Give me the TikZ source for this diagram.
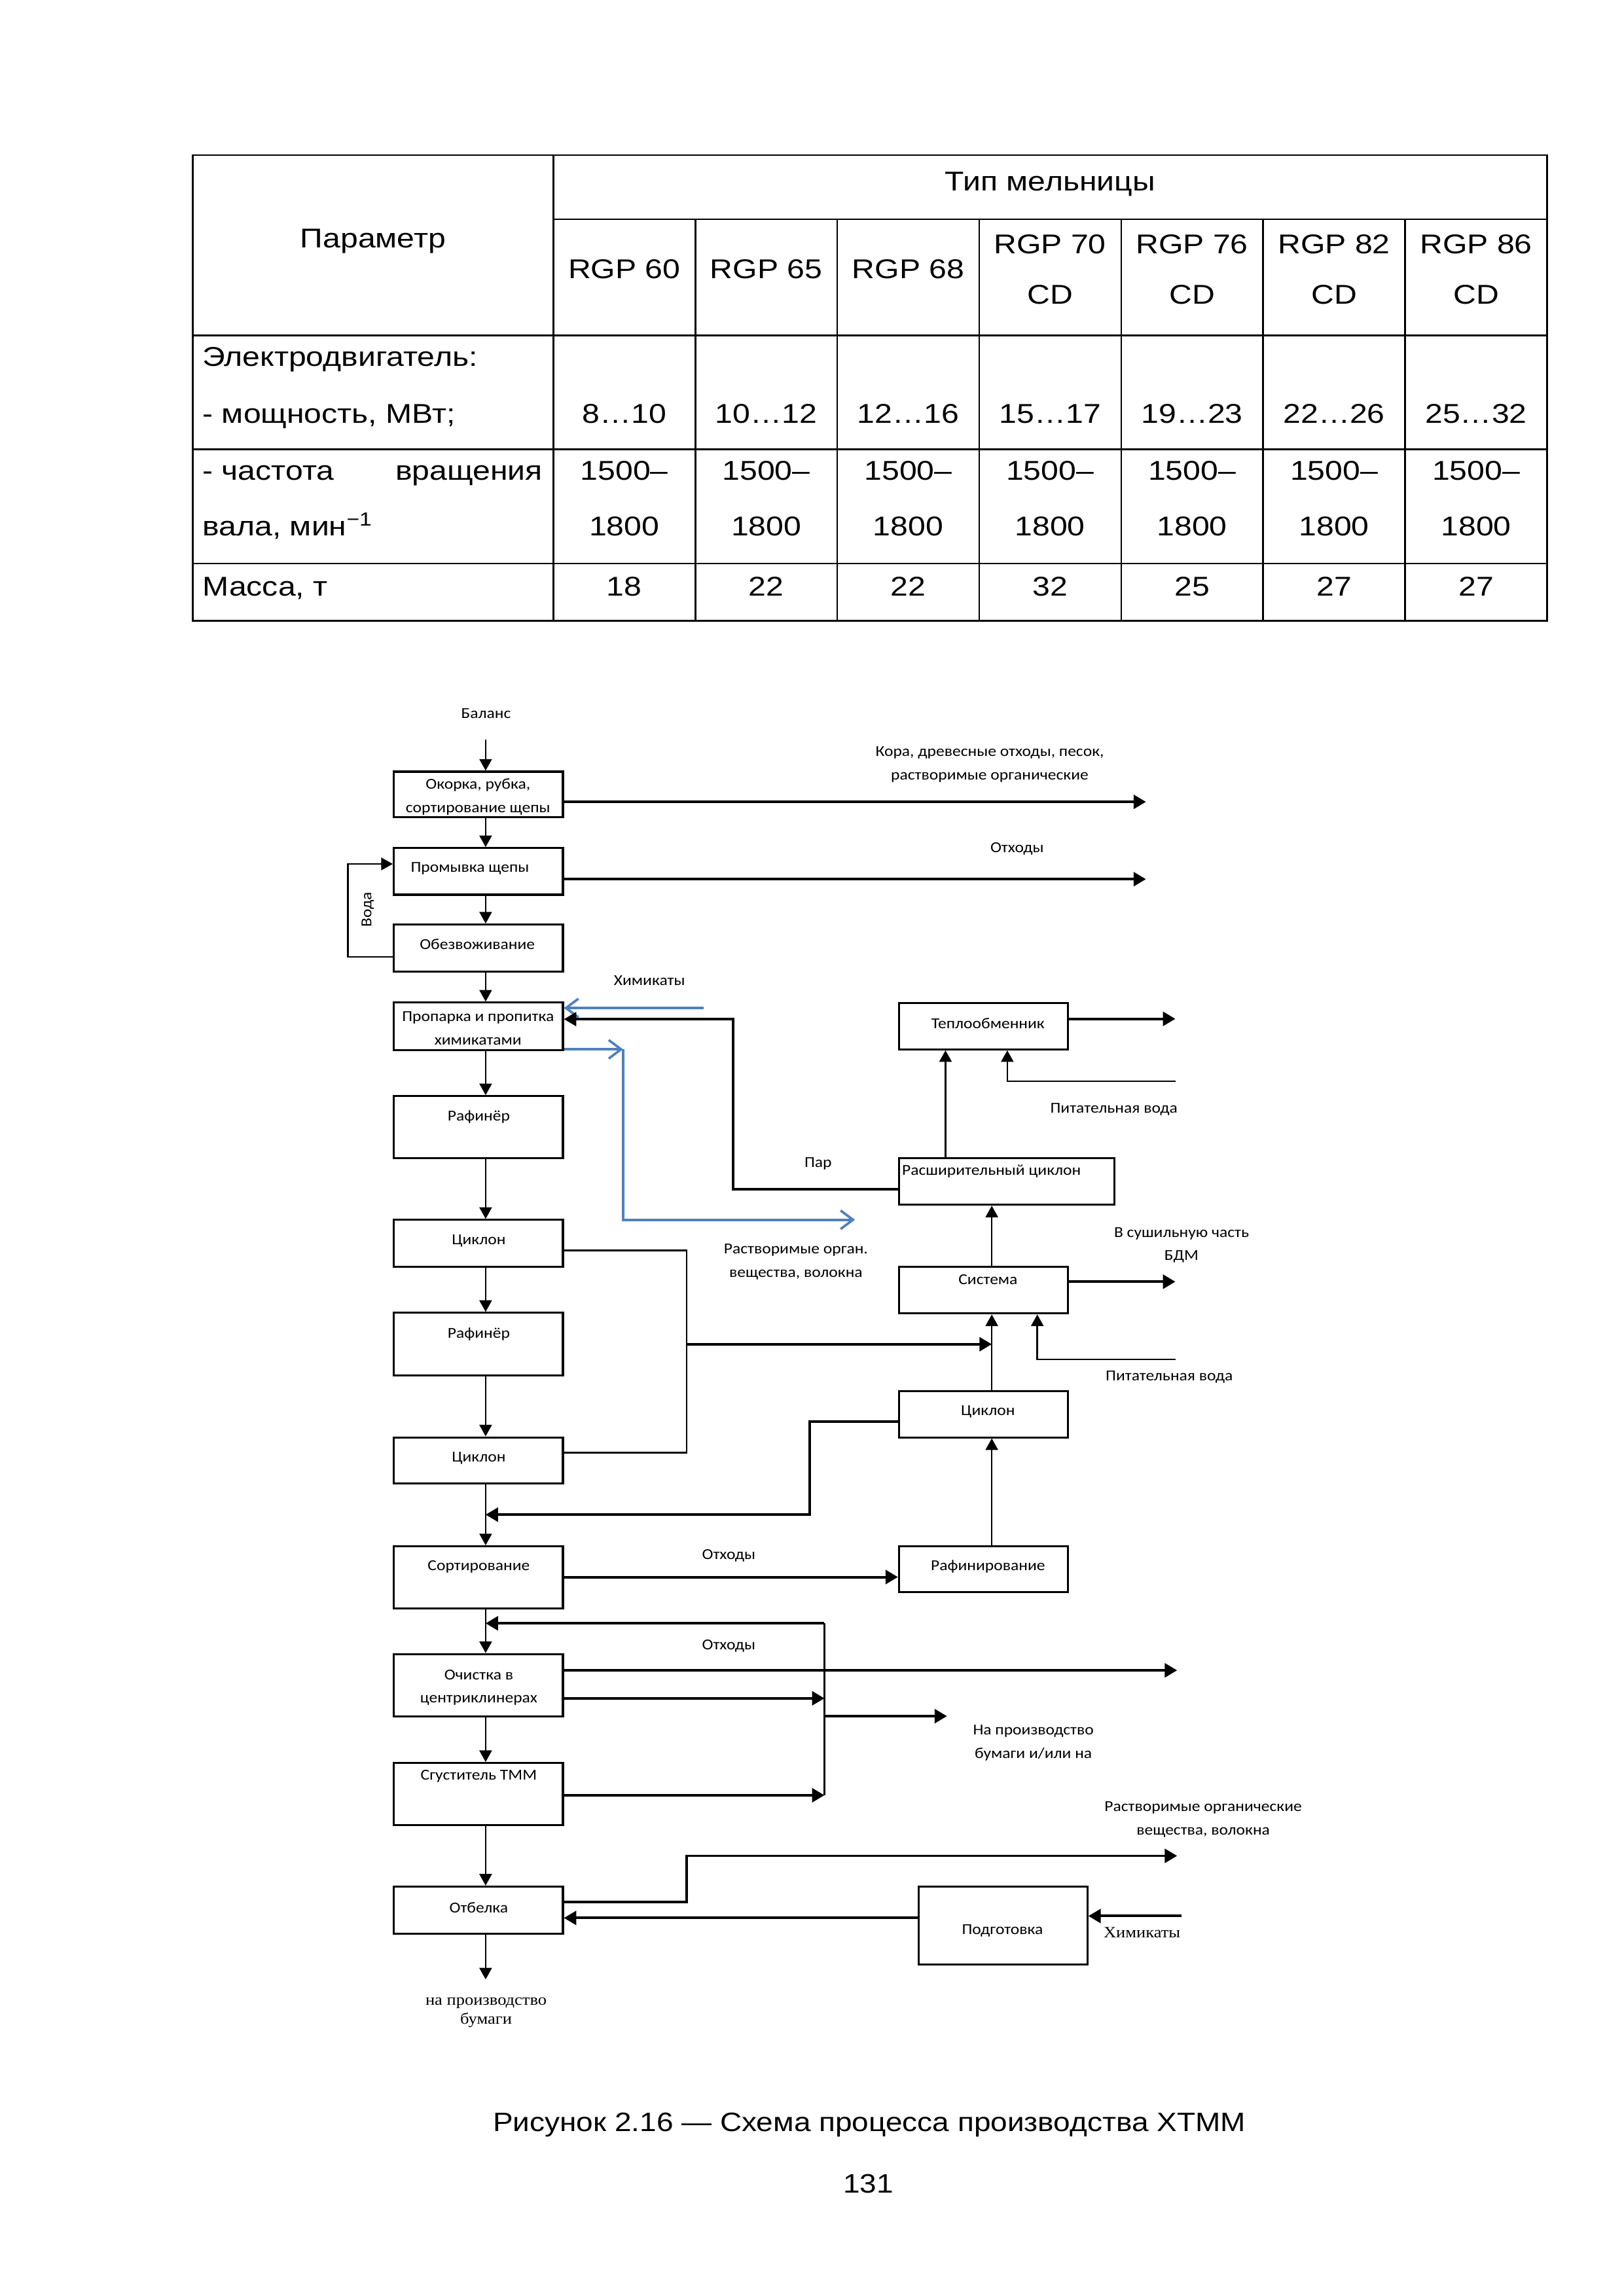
\documentclass[tikz,border=0pt]{standalone}
\usepackage{fontspec}
\setmainfont{Liberation Sans}[FakeStretch=1.1]
\newfontfamily\tabfont{Liberation Sans}[FakeStretch=1.16]
\newfontfamily\capfont{Liberation Sans}[FakeStretch=1.13]
\newfontfamily\dgfont{Carlito}[FakeStretch=1.1]
\newfontfamily\serfont{Liberation Serif}[FakeStretch=1.1]
\usetikzlibrary{arrows.meta,fit}
\definecolor{flowblue}{RGB}{79,129,189}
\begin{document}
\begin{tikzpicture}[x=0.189356mm, y=-0.189413mm,
  tab/.style={line width=0.65pt},
  ttext/.style={inner sep=0, anchor=base, font=\tabfont\fontsize{10}{12}\selectfont},
  ctext/.style={inner sep=0, anchor=base, font=\capfont\fontsize{9.8}{12}\selectfont},
  box/.style={draw, line width=0.75pt, inner sep=0},
  btext/.style={inner sep=0, align=center, font=\dgfont\fontsize{5.6}{8.6}\selectfont},
  lbl/.style={btext},
  slbl/.style={inner sep=0, align=center, font=\serfont\fontsize{5.8}{6.9}\selectfont},
  flow/.style={line width=0.65pt, -{Triangle[length=1.5mm,width=1.6mm]}},
  outar/.style={line width=0.95pt, -{Triangle[length=1.6mm,width=1.8mm]}},
  pipe/.style={line width=0.65pt},
  bflow/.style={flowblue, line width=0.9pt, -{Straight Barb[length=1.6mm,width=2.4mm]}},
]
\useasboundingbox (0,0) rectangle (1109,1568);
% ---------------- table ----------------
\draw[tab] (131.6,105.9) rectangle (1056.7,424);
\draw[tab] (377.9,149.7) -- (1056.7,149.7);
\foreach \yy in {229,306.8,384.8} \draw[tab] (131.6,\yy) -- (1056.7,\yy);
\draw[tab] (377.9,105.9) -- (377.9,424);
\foreach \xx in {474.9,571.8,668.8,765.8,862.7,959.7} \draw[tab] (\xx,149.7) -- (\xx,424);
\node[ttext] (hdr) at (717.3,130.4) {Тип мельницы};
\node[ttext] (par) at (254.8,169.4) {Параметр};
\foreach \c/\m [count=\i] in {426.4/60,523.35/65,620.3/68}
  \node[ttext] (m\i) at (\c,190.4) {RGP \m};
\foreach \c/\m [count=\i] in {717.2/70,814.2/76,911.2/82,1008.2/86}{
  \node[ttext] (mm\i) at (\c,173.1) {RGP \m};
  \node[ttext] (cd\i) at (\c,207.8) {CD};}
\foreach \c/\p/\w [count=\i] in {426.4/8…10/18,523.35/10…12/22,620.3/12…16/22,717.2/15…17/32,814.2/19…23/25,911.2/22…26/27,1008.2/25…32/27}{
  \node[ttext] (pw\i) at (\c,289) {\p};
  \node[ttext] (fa\i) at (\c,328) {1500–};
  \node[ttext] (fb\i) at (\c,366) {1800};
  \node[ttext] (ms\i) at (\c,407) {\w};}
\node[ttext, anchor=base west] (e1t) at (138,250) {Электродвигатель:};
\node[ttext, anchor=base west] (e2t) at (138,289) {- мощность, МВт;};
\node[ttext, anchor=base west] (e3t) at (138,328) {- частота};
\node[ttext, anchor=base east] (e4t) at (371,328) {вращения};
\node[ttext, anchor=base west] (e5t) at (138,366) {вала, мин\textsuperscript{−1}};
\node[ttext, anchor=base west] (e6t) at (138,407) {Масса, т};
% ---------------- boxes ----------------
\node[box, fit={(269,527) (384.5,558)}] (b1) {};
\node[box, fit={(269,579.2) (384.5,611)}] (b2) {};
\node[box, fit={(269,631.4) (384.5,663.5)}] (b3) {};
\node[box, fit={(269,684.7) (384.5,717)}] (b4) {};
\node[box, fit={(269,748.6) (384.5,791)}] (b5) {};
\node[box, fit={(269,833.1) (384.5,865)}] (b6) {};
\node[box, fit={(269,896.6) (384.5,939.5)}] (b7) {};
\node[box, fit={(269,981.6) (384.5,1013.2)}] (b8) {};
\node[box, fit={(269,1056) (384.5,1098.3)}] (b9) {};
\node[box, fit={(269,1129.6) (384.5,1172)}] (b10) {};
\node[box, fit={(269,1204) (384.5,1246.5)}] (b11) {};
\node[box, fit={(269,1288.4) (384.5,1320.6)}] (b12) {};
\node[box, fit={(614,685) (729.6,716.6)}] (r1) {};
\node[box, fit={(614,790.8) (761.3,822.7)}] (r2) {};
\node[box, fit={(614,865) (729.6,897)}] (r3) {};
\node[box, fit={(614,950) (729.6,981.6)}] (r4) {};
\node[box, fit={(614,1056) (729.6,1087.4)}] (r5) {};
\node[box, fit={(627.5,1288.4) (742.7,1341.5)}] (r6) {};
\node[btext] (b1t) at (326.5,544.2) {Окорка, рубка,\\сортирование щепы};
\node[btext] (b2t) at (321,593) {Промывка щепы};
\node[btext] (b3t) at (326,645) {Обезвоживание};
\node[btext] (b4t) at (326.5,702.3) {Пропарка и пропитка\\химикатами};
\node[btext] (b5t) at (327,763) {Рафинёр};
\node[btext] (b6t) at (327,847.5) {Циклон};
\node[btext] (b7t) at (327,911.2) {Рафинёр};
\node[btext] (b8t) at (327,996) {Циклон};
\node[btext] (b9t) at (327,1070) {Сортирование};
\node[btext] (b10t) at (327,1152.5) {Очистка в\\центриклинерах};
\node[btext] (b11t) at (327,1213.1) {Сгуститель ТММ};
\node[btext] (b12t) at (327,1303) {Отбелка};
\node[btext] (r1t) at (674.8,699) {Теплообменник};
\node[btext, anchor=west] (r2t) at (615.8,799.8) {Расширительный циклон};
\node[btext] (r3t) at (674.8,873.7) {Система};
\node[btext] (r4t) at (674.8,964) {Циклон};
\node[btext] (r5t) at (674.8,1070) {Рафинирование};
\node[btext] (r6t) at (684.7,1318.7) {Подготовка};
% ---------------- main flow ----------------
\coordinate (xm) at (331.7,0);
\foreach \a/\b in {b1/b2,b2/b3,b3/b4,b4/b5,b5/b6,b6/b7,b7/b8,b8/b9,b9/b10,b10/b11,b11/b12}
  \draw[flow] (\a.south -| xm) -- (\b.north -| xm);
\node[lbl] (balans) at (332,487.3) {Баланс};
\coordinate (balin) at (331.7,505.3);
\draw[flow] (balin) -- (b1.north -| balin);
\coordinate (o1) at (782.7,547.6);
\draw[outar] (b1.east |- o1) -- (o1);
\node[lbl] (l1) at (676,522.1) {Кора, древесные отходы, песок,\\растворимые органические};
\coordinate (o2) at (782.7,600.4);
\draw[outar] (b2.east |- o2) -- (o2);
\node[lbl] (l2) at (694.7,579.7) {Отходы};
\coordinate (w1) at (237.6,653.5);
\coordinate (w2) at (237.6,590);
\draw[flow] (b3.west |- w1) -- (w1) -- (w2) -- (b2.west |- w2);
\node[lbl, rotate=90] (voda) at (251.2,621.3) {Вода};
\coordinate (chem) at (480.5,688.4);
\draw[bflow] (chem) -- (b4.east |- chem);
\node[lbl] (lchem) at (443.6,669.7) {Химикаты};
\coordinate (p1) at (500.7,812.2);
\coordinate (p2) at (500.7,696);
\draw[outar, line width=0.8pt] (r2.west |- p1) -- (p1) -- (p2) -- (b4.east |- p2);
\node[lbl] (lpar) at (558.8,794.8) {Пар};
\coordinate (bl1) at (425.6,716.6);
\coordinate (bl2) at (425.6,833);
\coordinate (bl3) at (584,833);
\draw[bflow] (b4.east |- bl1) -- (bl1);
\draw[bflow] (bl1) -- (bl2) -- (bl3);
\node[lbl] (lsol) at (543.6,861.9) {Растворимые орган.\\вещества, волокна};
% ---------------- right column ----------------
\coordinate (xr1) at (645.8,0);
\draw[flow] (r2.north -| xr1) -- (r1.south -| xr1);
\coordinate (pwa) at (802.8,738.4);
\coordinate (pwb) at (688,738.4);
\draw[flow] (pwa) -- (pwb) -- (r1.south -| pwb);
\node[lbl] (lpw1) at (760.8,757.5) {Питательная вода};
\coordinate (o3) at (802.8,695.8);
\draw[outar] (r1.east |- o3) -- (o3);
\coordinate (xr2) at (677.4,0);
\draw[flow] (r3.north -| xr2) -- (r2.south -| xr2);
\coordinate (o4) at (802.8,875.3);
\draw[outar] (r3.east |- o4) -- (o4);
\node[lbl] (lsush) at (807,850.3) {В сушильную часть\\БДМ};
\coordinate (pwc) at (802.8,928.3);
\coordinate (pwd) at (708.5,928.3);
\draw[flow] (pwc) -- (pwd) -- (r3.south -| pwd);
\node[lbl] (lpw2) at (798.6,940.5) {Питательная вода};
\draw[flow] (r4.north -| xr2) -- (r3.south -| xr2);
\draw[flow] (r5.north -| xr2) -- (r4.south -| xr2);
% ---------------- cyclone links ----------------
\coordinate (c1) at (469,854);
\coordinate (c2) at (469,992.2);
\draw[pipe] (b6.east |- c1) -- (c1) -- (c2) -- (b8.east |- c2);
\coordinate (c3) at (469,918);
\draw[outar] (c3) -- (xr2 |- c3);
\coordinate (d1) at (553.2,971);
\coordinate (d2) at (553.2,1034.4);
\draw[outar] (r4.west |- d1) -- (d1) -- (d2) -- (xm |- d2);
\coordinate (s1) at (0,1077);
\draw[outar] (b9.east |- s1) -- (r5.west |- s1);
\node[lbl] (lotx1) at (497.8,1062.5) {Отходы};
% ---------------- cleaning ----------------
\coordinate (f1) at (563.1,1108.6);
\coordinate (f2) at (563.1,1226);
\draw[pipe] (f1) -- (f2);
\draw[outar] (f1) -- (xm |- f1);
\coordinate (o5) at (804,1140.7);
\draw[outar] (b10.east |- o5) -- (o5);
\node[lbl] (lotx2) at (497.8,1124) {Отходы};
\coordinate (f3) at (563.1,1159.8);
\draw[outar] (b10.east |- f3) -- (f3);
\coordinate (f4) at (563.1,1172);
\coordinate (o6) at (646.8,1172);
\draw[outar] (f4) -- (o6);
\node[lbl] (lnapr) at (705.8,1190.3) {На производство\\бумаги и/или на};
\draw[outar] (b11.east |- f2) -- (f2);
% ---------------- bleaching ----------------
\coordinate (e1) at (469,1299);
\coordinate (e2) at (469,1267.4);
\coordinate (o7) at (804,1267.4);
\draw[outar] (b12.east |- e1) -- (e1) -- (e2) -- (o7);
\node[lbl] (lsol2) at (821.8,1242.6) {Растворимые органические\\вещества, волокна};
\coordinate (g1) at (0,1309.8);
\draw[outar] (r6.west |- g1) -- (b12.east |- g1);
\coordinate (h1) at (807.2,1308.5);
\draw[outar] (h1) -- (r6.east |- h1);
\node[slbl] (lchem2) at (780,1320) {Химикаты};
\coordinate (fin) at (331.7,1351.8);
\draw[flow] (b12.south -| xm) -- (fin);
\node[slbl] (lpaper) at (332,1374.3) {на производство\\бумаги};
% ---------------- caption ----------------
\node[ctext] (cap) at (593.7,1455.5) {Рисунок 2.16 — Схема процесса производства ХТММ};
\node[ctext] (pg) at (593,1497.5) {131};
\end{tikzpicture}
\end{document}
